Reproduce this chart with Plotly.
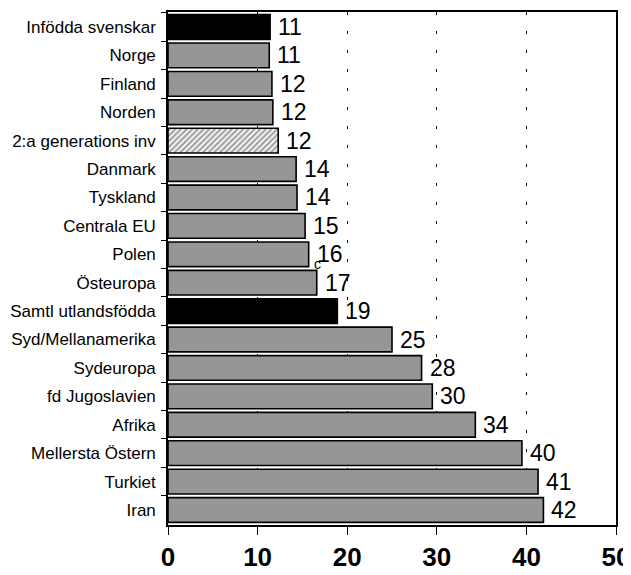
import plotly.graph_objects as go

categories = ["Infödda svenskar", "Norge", "Finland", "Norden", "2:a generations inv",
              "Danmark", "Tyskland", "Centrala EU", "Polen", "Östeuropa",
              "Samtl utlandsfödda", "Syd/Mellanamerika", "Sydeuropa", "fd Jugoslavien",
              "Afrika", "Mellersta Östern", "Turkiet", "Iran"]
values = [11.4, 11.3, 11.6, 11.7, 12.3, 14.3, 14.4, 15.3, 15.7, 16.6,
          18.9, 25.0, 28.3, 29.5, 34.3, 39.5, 41.3, 41.9]
labels = ["11", "11", "12", "12", "12", "14", "14", "15", "16", "17",
          "19", "25", "28", "30", "34", "40", "41", "42"]
kinds = ["black", "gray", "gray", "gray", "hatch", "gray", "gray", "gray", "gray", "gray",
         "black", "gray", "gray", "gray", "gray", "gray", "gray", "gray"]

fill_map = {"black": "#000000", "gray": "#969696", "hatch": "#ffffff"}
colors = [fill_map[k] for k in kinds]
shapes = ["/" if k == "hatch" else "" for k in kinds]

fig = go.Figure()
fig.add_trace(go.Bar(
    y=categories, x=values, orientation="h",
    marker=dict(color=colors,
                line=dict(color="#000000", width=1.6),
                pattern=dict(shape=shapes, fgcolor="#000000", bgcolor="#ffffff",
                             size=4, solidity=0.55, fillmode="overlay")),
    hoverinfo="skip",
))

for cat, v, lab in zip(categories, values, labels):
    fig.add_annotation(x=v, y=cat, text=lab, showarrow=False, xanchor="left",
                       xshift=6, yshift=0,
                       font=dict(family="Liberation Sans, Arial", size=23, color="#000"))

fig.add_annotation(x=16.1, y=8.34, text="c", showarrow=False, xanchor="left",
                   font=dict(family="Liberation Sans, Arial", size=14, color="#000"))

# page body has an 8px margin, so the figure is sized/offset to compensate
fig.update_layout(
    width=623, height=567,
    margin=dict(l=160, r=15, t=4, b=50),
    plot_bgcolor="#ffffff", paper_bgcolor="#ffffff",
    bargap=0.13, showlegend=False,
    font=dict(family="Liberation Sans, Arial", color="#000"),
)
fig.update_xaxes(
    range=[0, 50], tickvals=[0, 10, 20, 30, 40, 50],
    automargin=False, ticklabeloverflow="allow",
    showline=True, linecolor="#000", linewidth=1.6, mirror=True,
    ticks="outside", ticklen=8, tickcolor="#000", tickwidth=1.3,
    tickfont=dict(family="Liberation Sans, Arial", size=26, color="#000", weight="bold"),
    ticklabelstandoff=0,
    showgrid=True, gridcolor="#000", gridwidth=1, griddash="3px,16px",
    zeroline=False,
)
fig.update_yaxes(
    autorange="reversed", type="category", automargin=False,
    showline=True, linecolor="#000", linewidth=1.6, mirror=True,
    ticks="outside", ticklen=5, tickcolor="#000", tickwidth=1.3,
    tickson="boundaries",
    tickfont=dict(family="Liberation Sans, Arial", size=17, color="#000"),
    ticklabelstandoff=7,
    showgrid=False,
)

fig.write_html("out.html")
